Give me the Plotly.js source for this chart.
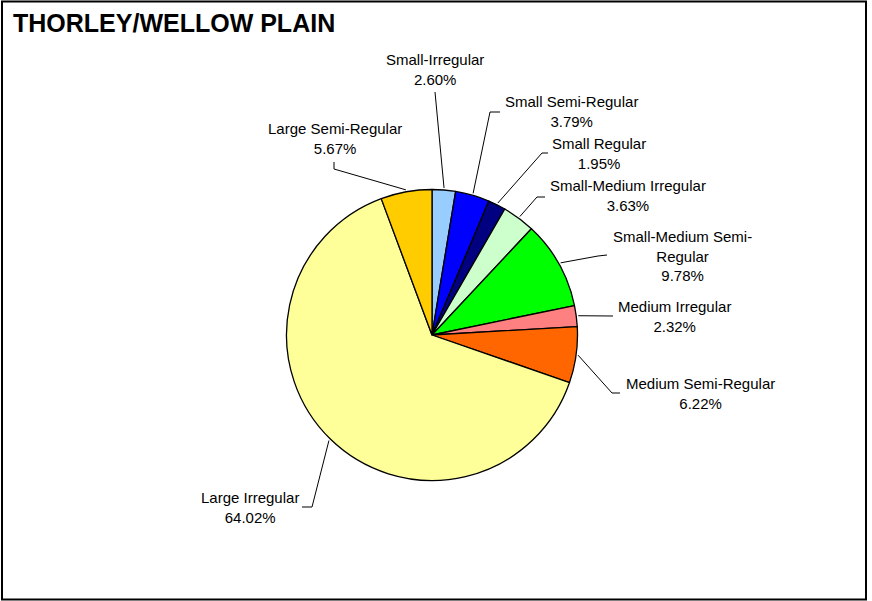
<!DOCTYPE html>
<html>
<head>
<meta charset="utf-8">
<script src="https://cdn.plot.ly/plotly-3.0.1.min.js"></script>
<style>html,body{margin:0;padding:0;background:#fff;}#chart{width:872px;height:601px;}</style>
</head>
<body>
<div id="chart"></div>
<script>
// ---- data ----
var categories = ["Small-Irregular", "Small Semi-Regular", "Small Regular", "Small-Medium Irregular",
  "Small-Medium Semi-Regular", "Medium Irregular", "Medium Semi-Regular", "Large Irregular", "Large Semi-Regular"];
var percents = [2.60, 3.79, 1.95, 3.63, 9.78, 2.32, 6.22, 64.02, 5.67];
var labelText = ["Small-Irregular", "Small Semi-Regular", "Small Regular", "Small-Medium Irregular",
  "Small-Medium Semi-<br>Regular", "Medium Irregular", "Medium Semi-Regular", "Large Irregular", "Large Semi-Regular"];
var colors = ["#99CCFF", "#0000FF", "#000080", "#CCFFCC", "#00FF00", "#FF8080", "#FF6600", "#FFFF99", "#FFCC00"];

// ---- layout constants (pixels) ----
var W = 872, H = 601;
var PIE = {cx: 432, cy: 335, r: 145.5};
// label block centres
var labelPos = [[435,69],[571,111],[599,153.5],[628,196],[682,255.5],[674,316.5],[700,393],[250,507],[335,138]];
// leader line points from label side (final point computed from the slice)
var leaderPts = [
  [[435,92]],
  [[500,112],[490,112]],
  [[548,153],[542,153]],
  [[545,197],[537,197]],
  [[607,255],[598,256]],
  [[613,316]],
  [[620,393],[612,393]],
  [[302,507],[312,507]],
  [[334,162],[334,169]]
];

function px(x){ return x / W; }
function py(y){ return 1 - y / H; }

var total = percents.reduce(function(a,b){return a+b;}, 0);
var annotations = [];
var shapes = [];
var cum = 0;
for (var i = 0; i < percents.length; i++) {
  var mid = (cum + percents[i] / 2) / total * 2 * Math.PI;
  cum += percents[i];
  var ex = PIE.cx + (PIE.r + 2) * Math.sin(mid);
  var ey = PIE.cy - (PIE.r + 2) * Math.cos(mid);
  var pts = leaderPts[i].concat([[ex, ey]]);
  var d = pts.map(function(p, k){ return (k === 0 ? "M" : "L") + px(p[0]) + "," + py(p[1]); }).join(" ");
  shapes.push({type: "path", xref: "paper", yref: "paper", path: d, line: {color: "#000", width: 1}});
  annotations.push({
    xref: "paper", yref: "paper", x: px(labelPos[i][0]), y: py(labelPos[i][1]),
    xanchor: "center", yanchor: "middle", showarrow: false, align: "center",
    text: labelText[i] + "<br>" + percents[i].toFixed(2) + "%",
    font: {family: "Liberation Sans, Arial, sans-serif", size: 15, color: "#000"}
  });
}

annotations.push({
  xref: "paper", yref: "paper", x: px(11), y: py(23), xanchor: "left", yanchor: "middle",
  showarrow: false, text: "<b>THORLEY/WELLOW PLAIN</b>",
  font: {family: "Liberation Sans, Arial, sans-serif", size: 25, color: "#000"}
});

shapes.push({type: "rect", xref: "paper", yref: "paper",
  x0: px(2), x1: px(866), y0: py(599.5), y1: py(1.5), line: {color: "#000", width: 2}});

var trace = {
  type: "pie",
  labels: categories,
  values: percents,
  sort: false,
  direction: "clockwise",
  rotation: 0,
  textinfo: "none",
  hoverinfo: "label+percent",
  marker: {colors: colors, line: {color: "#000", width: 1.3}},
  domain: {x: [px(PIE.cx - PIE.r), px(PIE.cx + PIE.r)], y: [py(PIE.cy + PIE.r), py(PIE.cy - PIE.r)]}
};

var layout = {
  width: W, height: H,
  margin: {l: 0, r: 0, t: 0, b: 0},
  paper_bgcolor: "#fff",
  showlegend: false,
  annotations: annotations,
  shapes: shapes
};

Plotly.newPlot("chart", [trace], layout, {displayModeBar: false, staticPlot: true});
</script>
</body>
</html>
